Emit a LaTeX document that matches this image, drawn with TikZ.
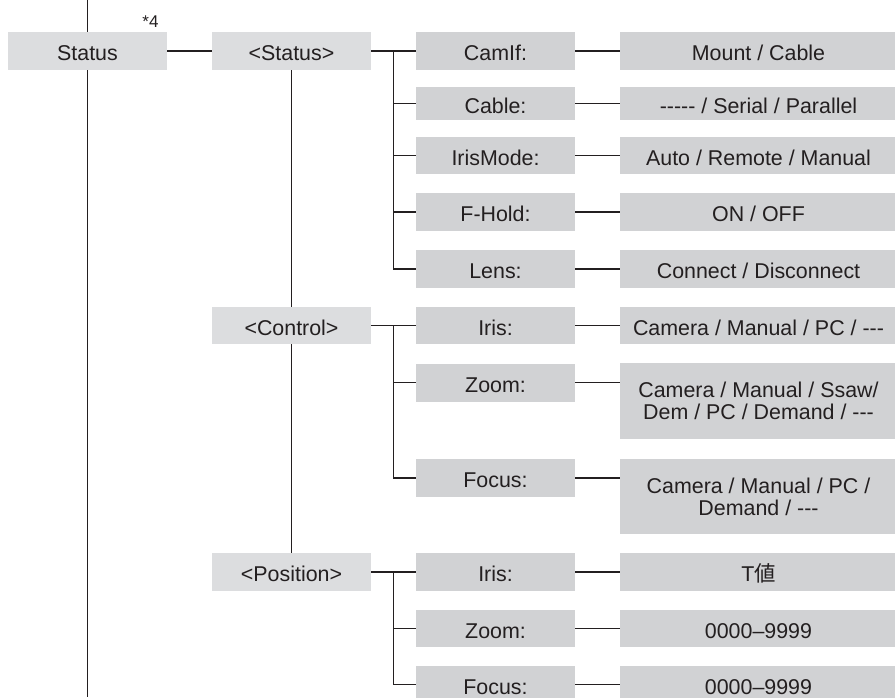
\documentclass[tikz,border=0pt]{standalone}
\usepackage{fontspec}
\setmainfont{Liberation Sans}
\newfontfamily\cjk{Noto Sans CJK JP}
\usetikzlibrary{calc}
\pgfdeclarelayer{background}
\pgfsetlayers{background,main}
\definecolor{ink}{HTML}{231F20}
\definecolor{headfill}{HTML}{DCDDDF}
\definecolor{itemfill}{HTML}{D1D2D4}
% plain hyphens, kept apart so they do not merge into dashes
\newcommand\hy{{-}}
\begin{document}
\begin{tikzpicture}[x=1pt,y=-1pt,
  font=\fontsize{21.4}{21.8}\selectfont, text=ink,
  box/.style={rectangle, inner sep=0pt, text height=19pt, text depth=0pt,
    minimum width=159pt, minimum height=38pt},
  head/.style={box, fill=headfill},
  item/.style={box, fill=itemfill},
  value/.style={item, minimum width=277pt},
  tall/.style={rectangle, inner sep=0pt, fill=itemfill, align=center,
    minimum width=277pt, minimum height=#1},
  wire/.style={draw=ink, line width=1.1pt}
]
\useasboundingbox (0,0) rectangle (895,697);

% top level
\node[head] (st) at (87.5,51) {Status};
\node[font=\fontsize{17}{20}\selectfont] (note) at (150.5,21.5) {*4};

% second level
\node[head] (sst) at (291.5,51) {<Status>};
\node[head, minimum height=37pt] (ctl) at (291.5,325.5) {<Control>};
\node[head] (pos) at (291.5,572) {<Position>};

% <Status> items and values
\node[item] (camif) at (495.5,51) {CamIf:};
\node[value] (camifv) at (758.5,51) {Mount / Cable};
\node[item, minimum height=33.5pt] (cable) at (495.5,103.5) {Cable:};
\node[value, minimum height=33.5pt] (cablev) at (758.5,103.5) {\hy\hy\hy\hy\hy{} / Serial / Parallel};
\node[item, minimum height=37pt] (irismode) at (495.5,155.5) {IrisMode:};
\node[value, minimum height=37pt] (irismodev) at (758.5,155.5) {Auto / Remote / Manual};
\node[item] (fhold) at (495.5,212) {F-Hold:};
\node[value] (fholdv) at (758.5,212) {ON / OFF};
\node[item] (lens) at (495.5,269) {Lens:};
\node[value] (lensv) at (758.5,269) {Connect / Disconnect};

% <Control> items and values
\node[item, minimum height=37pt] (ciris) at (495.5,325.5) {Iris:};
\node[value, minimum height=37pt] (cirisv) at (758.5,325.5) {Camera / Manual / PC / \hy\hy\hy};
\node[item] (czoom) at (495.5,382.5) {Zoom:};
\node[tall=76pt] (czoomv) at (758.5,401) {Camera / Manual / Ssaw/\\Dem / PC / Demand / \hy\hy\hy};
\node[item] (cfocus) at (495.5,478) {Focus:};
\node[tall=75pt] (cfocusv) at (758.5,496.5) {Camera / Manual / PC /\\Demand / \hy\hy\hy};

% <Position> items and values
\node[item] (piris) at (495.5,572) {Iris:};
\node[value] (pirisv) at (758.5,572) {T{\cjk 値}};
\node[item, minimum height=37pt] (pzoom) at (495.5,628.5) {Zoom:};
\node[value, minimum height=37pt] (pzoomv) at (758.5,628.5) {0000–9999};
\node[item] (pfocus) at (495.5,684.5) {Focus:};
\node[value] (pfocusv) at (758.5,684.5) {0000–9999};

% branch points
\coordinate (top) at (87.5,0);
\coordinate (bottom) at (87.5,697);
\coordinate (bs) at ($(sst.east)!.5!(camif.west)$);
\coordinate (bc) at ($(ctl.east)!.5!(ciris.west)$);
\coordinate (bp) at ($(pos.east)!.5!(piris.west)$);

\begin{pgfonlayer}{background}
  % main trunk
  \draw[wire] (top) -- (st.north);
  \draw[wire] (st.south) -- (bottom);
  \draw[wire] (st.east) -- (sst.west);
  % second-level spine
  \draw[wire] (sst.south) -- (ctl.north);
  \draw[wire] (ctl.south) -- (pos.north);
  % <Status> branch
  \draw[wire] (sst.east) -- (camif.west);
  \draw[wire] (bs) |- (lens.west);
  \foreach \n in {cable,irismode,fhold}
    \draw[wire] (\n.west) -- (\n.west -| bs);
  % <Control> branch
  \draw[wire] (ctl.east) -- (ciris.west);
  \draw[wire] (bc) |- (cfocus.west);
  \draw[wire] (czoom.west) -- (czoom.west -| bc);
  % <Position> branch
  \draw[wire] (pos.east) -- (piris.west);
  \draw[wire] (bp) |- (pfocus.west);
  \draw[wire] (pzoom.west) -- (pzoom.west -| bp);
  % item to value
  \foreach \n in {camif,cable,irismode,fhold,lens,ciris,piris,pzoom,pfocus}
    \draw[wire] (\n.east) -- (\n v.west);
  \draw[wire] (czoom.east) -- (czoom.east -| czoomv.west);
  \draw[wire] (cfocus.east) -- (cfocus.east -| cfocusv.west);
\end{pgfonlayer}
\end{tikzpicture}
\end{document}
